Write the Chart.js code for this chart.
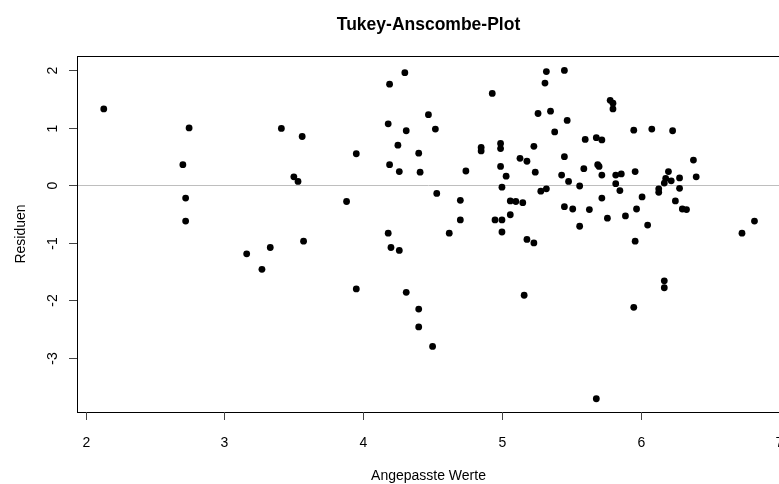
<!DOCTYPE html>
<html>
<head>
<meta charset="utf-8">
<script src="https://cdn.jsdelivr.net/npm/chart.js@4/dist/chart.umd.min.js"></script>
<style>
  html, body { margin: 0; padding: 0; background: #fff; overflow: hidden; }
  #wrap { width: 779px; height: 484px; overflow: hidden; }
</style>
</head>
<body>
<div id="wrap"><canvas id="plot" width="790" height="484"></canvas></div>
<script>
// ─── Data ───
const fitted = [
    2.13, 2.745, 2.70, 2.72, 2.72, 3.41, 3.56, 3.50, 3.53, 3.95,
    3.88, 3.57, 3.33, 3.16, 3.27, 3.95, 4.18, 4.19, 4.30, 4.18,
    4.31, 4.25, 4.19, 4.26, 4.47, 4.52, 4.40, 4.41, 4.53, 4.20,
    4.26, 4.62, 4.70, 4.70, 4.74, 4.93, 4.85, 4.85, 4.99, 4.99,
    4.99, 5.03, 5.00, 4.95, 5.00, 5.00, 5.06, 5.10, 5.15, 5.06,
    5.13, 5.18, 5.23, 5.24, 5.18, 5.23, 5.32, 5.31, 5.45, 5.26,
    5.35, 5.38, 5.47, 5.45, 5.43, 5.48, 5.28, 5.32, 5.56, 5.45,
    5.51, 5.56, 5.59, 5.60, 5.68, 5.72, 5.69, 5.70, 5.72, 5.63,
    5.72, 5.76, 5.78, 5.80, 5.80, 5.82, 5.86, 5.82, 5.85, 5.89,
    5.95, 5.96, 6.01, 5.97, 6.05, 5.96, 6.08, 6.13, 6.13, 6.20,
    6.18, 6.17, 6.22, 6.23, 6.28, 6.28, 6.25, 6.30, 6.33, 6.38,
    6.40, 6.73, 6.82, 4.31, 4.40, 4.40, 4.50, 5.16, 5.95, 6.17,
    6.17, 5.68
];
const residuals = [
    1.33, 1.00, 0.36, -0.22, -0.62, 0.99, 0.85, 0.15, 0.07, 0.55,
    -0.28, -0.97, -1.08, -1.19, -1.46, -1.80, -0.83, 1.76, 1.96, 1.07,
    0.95, 0.70, 0.36, 0.24, 1.23, 0.98, 0.56, 0.23, -0.14, -1.08,
    -1.13, -0.83, -0.26, -0.60, 0.25, 1.60, 0.66, 0.60, 0.73, 0.64,
    0.33, 0.16, -0.03, -0.60, -0.60, -0.81, -0.27, -0.28, -0.30, -0.51,
    0.47, 0.42, 0.68, 0.23, -0.94, -1.00, 1.98, 1.78, 2.00, 1.25,
    1.29, 0.93, 1.13, 0.50, 0.18, 0.07, -0.10, -0.06, -0.01, -0.37,
    -0.41, -0.71, 0.29, 0.80, 0.83, 0.79, 0.36, 0.33, 0.18, -0.42,
    -0.22, -0.57, 1.48, 1.43, 1.33, 0.18, 0.20, 0.03, -0.09, -0.53,
    0.96, 0.24, -0.20, -0.41, -0.69, -0.97, 0.98, -0.06, -0.12, 0.24,
    0.12, 0.04, 0.08, 0.95, 0.13, -0.05, -0.27, -0.41, -0.42, 0.44,
    0.15, -0.83, -0.62, -1.86, -2.15, -2.46, -2.80, -1.91, -2.12, -1.66,
    -1.78, -3.71
];
const xTicks = [2, 3, 4, 5, 6, 7];
const yTicks = [-3, -2, -1, 0, 1, 2];

const titleText = 'Tukey-Anscombe-Plot';
const xLabel = 'Angepasste Werte';
const yLabel = 'Residuen';

const FONT = '"Liberation Sans", Arial, Helvetica, sans-serif';

// ─── R-style frame, axes and labels ───
const rFrame = {
    id: 'rFrame',
    beforeDatasetsDraw(chart) {
        const { ctx, chartArea: a, scales } = chart;
        const y0 = Math.round(scales.y.getPixelForValue(0)) + 0.5;
        ctx.save();
        ctx.strokeStyle = '#bebebe';
        ctx.lineWidth = 1;
        ctx.beginPath();
        ctx.moveTo(a.left, y0);
        ctx.lineTo(a.right, y0);
        ctx.stroke();
        ctx.restore();
    },
    afterDraw(chart) {
        const { ctx, chartArea: a, scales } = chart;
        ctx.save();
        ctx.strokeStyle = '#000';
        ctx.lineWidth = 1;
        ctx.strokeRect(a.left + 0.5, a.top + 0.5, a.right - a.left, a.bottom - a.top);

        // x axis
        ctx.fillStyle = '#000';
        ctx.font = '14px ' + FONT;
        ctx.textAlign = 'center';
        ctx.textBaseline = 'alphabetic';
        ctx.strokeStyle = '#444';
        xTicks.forEach(v => {
            const x = Math.round(scales.x.getPixelForValue(v)) + 0.5;
            ctx.beginPath();
            ctx.moveTo(x, a.bottom);
            ctx.lineTo(x, a.bottom + 8);
            ctx.stroke();
            ctx.fillText(String(v), x, a.bottom + 35);
        });

        // y axis (labels parallel to axis)
        yTicks.forEach(v => {
            const y = Math.round(scales.y.getPixelForValue(v)) + 0.5;
            ctx.beginPath();
            ctx.moveTo(a.left, y);
            ctx.lineTo(a.left - 8, y);
            ctx.stroke();
            ctx.save();
            ctx.translate(a.left - 20, y);
            ctx.rotate(-Math.PI / 2);
            ctx.fillText(String(v), 0, 0);
            ctx.restore();
        });

        const cx = (a.left + a.right) / 2;
        ctx.fillText(xLabel, cx, 480);
        ctx.save();
        ctx.translate(25, (a.top + a.bottom) / 2);
        ctx.rotate(-Math.PI / 2);
        ctx.fillText(yLabel, 0, 0);
        ctx.restore();

        ctx.font = 'bold 17.5px ' + FONT;
        ctx.fillText(titleText, cx, 29.5);
        ctx.restore();
    }
};

new Chart(document.getElementById('plot'), {
    type: 'scatter',
    data: {
        datasets: [{
            data: fitted.map((f, i) => ({ x: f, y: residuals[i] })),
            backgroundColor: '#000',
            borderWidth: 0,
            pointRadius: 3.4,
            pointHoverRadius: 3.4
        }]
    },
    options: {
        responsive: false,
        animation: false,
        layout: { padding: { left: 77, right: 10, top: 56, bottom: 72 } },
        plugins: { legend: { display: false }, tooltip: { enabled: false } },
        scales: {
            x: { type: 'linear', min: 1.937, max: 7.004, display: false },
            y: { type: 'linear', min: -3.94, max: 2.25, display: false }
        }
    },
    plugins: [rFrame]
});
</script>
</body>
</html>
